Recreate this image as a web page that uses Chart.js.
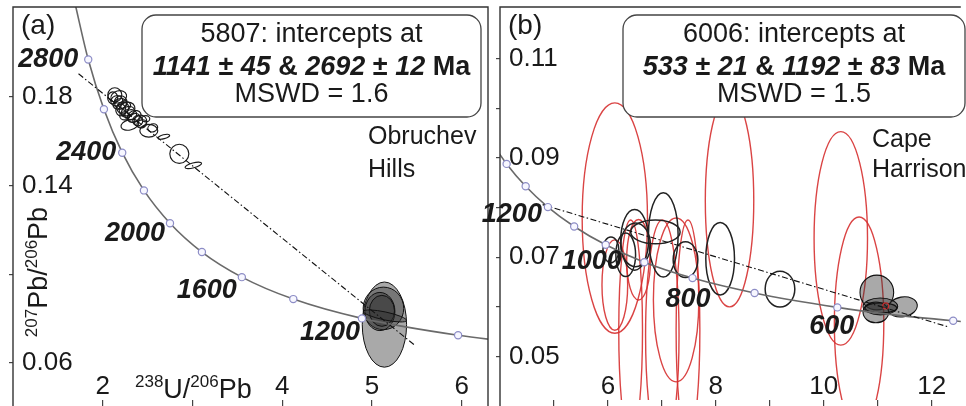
<!DOCTYPE html>
<html>
<head>
<meta charset="utf-8">
<title>Tera-Wasserburg concordia, samples 5807 and 6006</title>
<script src="https://cdn.jsdelivr.net/npm/chart.js@4.4.1/dist/chart.umd.min.js"></script>
<style>
  html, body { margin: 0; padding: 0; background: #fff; }
  #wrap { position: relative; width: 966px; height: 406px; overflow: hidden; }
  #panel-a { position: absolute; left: 0; top: 0; }
  #panel-b { position: absolute; left: 480px; top: 0; }
</style>
</head>
<body>
<div id="wrap">
  <canvas id="panel-a" width="494" height="406"></canvas>
  <canvas id="panel-b" width="486" height="406"></canvas>
</div>
<script>
// ---- Panel (a): sample 5807, Obruchev Hills ----
// concordia points (age in Ma, 238U/206Pb, 207Pb/206Pb)
const concAgesA = [3000, 2800, 2600, 2400, 2200, 2000, 1800, 1600, 1400, 1200, 1000, 900];
const concXA = [1.6875, 1.8383, 2.0129, 2.2170, 2.4586, 2.7490, 3.1046, 3.5496, 4.1227, 4.8876, 5.9588, 6.6744];
const concYA = [0.2227, 0.1968, 0.1744, 0.1548, 0.1378, 0.1230, 0.1100, 0.0987, 0.0888, 0.0801, 0.0725, 0.0690];
const markerAgesA = [2800, 2600, 2400, 2200, 2000, 1800, 1600, 1400, 1200, 1000];
const labelAgesA = [2800, 2400, 2000, 1600, 1200];

// discordia line
const discXA = [1.73, 5.47];
const discYA = [0.1904, 0.0682];

// error ellipses: [x, y, half-width, half-height, tilt deg]
const openEllA = [
  [2.134, 0.1809, 0.078, 0.0032, 0],
  [2.178, 0.1800, 0.089, 0.0027, -15],
  [2.111, 0.1795, 0.056, 0.0027, 0],
  [2.156, 0.1782, 0.067, 0.0023, -20],
  [2.200, 0.1775, 0.070, 0.0030, 0],
  [2.190, 0.1768, 0.078, 0.0023, -20],
  [2.256, 0.1759, 0.056, 0.0018, -20],
  [2.223, 0.1750, 0.067, 0.0027, -10],
  [2.270, 0.1745, 0.090, 0.0030, -20],
  [2.201, 0.1741, 0.056, 0.0027, 0],
  [2.279, 0.1732, 0.078, 0.0023, -25],
  [2.312, 0.1719, 0.067, 0.0023, -20],
  [2.245, 0.1714, 0.056, 0.0018, 0],
  [2.350, 0.1712, 0.080, 0.0025, -25],
  [2.346, 0.1705, 0.067, 0.0018, -25],
  [2.479, 0.1701, 0.045, 0.0014, 0],
  [2.390, 0.1692, 0.056, 0.0023, 0],
  [2.420, 0.1690, 0.070, 0.0027, -15],
  [2.435, 0.1678, 0.056, 0.0018, -20],
  [2.301, 0.1674, 0.100, 0.0023, -15],
  [2.557, 0.1660, 0.056, 0.0018, -20],
  [2.513, 0.1647, 0.100, 0.0029, 0],
  [2.680, 0.1620, 0.067, 0.0009, -15],
  [2.853, 0.1543, 0.106, 0.0043, 0],
  [3.009, 0.1491, 0.095, 0.0011, -15]
];
const greyEllA = [
  [5.138, 0.0773, 0.247, 0.0192, 0],
  [5.127, 0.0846, 0.226, 0.0096, 0],
  [5.088, 0.0832, 0.167, 0.0086, 0],
  [5.110, 0.0835, 0.140, 0.0070, 0],
  [5.144, 0.0812, 0.245, 0.0018, 12]
];

const xTicksA = [2, 3, 4, 5, 6];
const xLabelsA = [2, 4, 5, 6];
const yTicksA = [0.06, 0.10, 0.14, 0.18];
const yLabelsA = [0.06, 0.14, 0.18];

// ---- Panel (b): sample 6006, Cape Harrison ----
const concAgesB = [1500, 1400, 1300, 1200, 1100, 1000, 900, 800, 700, 600, 550, 500, 480];
const concXB = [3.8169, 4.1227, 4.4757, 4.8876, 5.3746, 5.9588, 6.6744, 7.5683, 8.7180, 10.2518, 11.2277, 12.399, 12.936];
const concYB = [0.0936, 0.0888, 0.0843, 0.0801, 0.0762, 0.0725, 0.0690, 0.0658, 0.0628, 0.0599, 0.0585, 0.0572, 0.0567];
const markerAgesB = [1400, 1300, 1200, 1100, 1000, 900, 800, 700, 600, 500];
const labelAgesB = [1200, 1000, 800, 600];

const discXB = [4.79, 12.30];
const discYB = [0.0806, 0.0560];

const redEllB = [
  [6.128, 0.0779, 0.605, 0.0232, 0],
  [8.254, 0.0814, 0.449, 0.0214, 0],
  [10.316, 0.0738, 0.495, 0.0215, 0],
  [10.655, 0.0567, 0.458, 0.0214, 0],
  [6.128, 0.0644, 0.238, 0.0091, 0],
  [7.264, 0.0614, 0.421, 0.0165, 0],
  [6.421, 0.0553, 0.220, 0.0222, 0],
  [7.008, 0.0543, 0.310, 0.0232, 0],
  [7.484, 0.0553, 0.220, 0.0222, 0],
  [6.568, 0.0695, 0.220, 0.0081, 0]
];
const openEllB = [
  [8.080, 0.0697, 0.266, 0.0073, 0],
  [9.189, 0.0636, 0.275, 0.0036, 0],
  [7.026, 0.0745, 0.275, 0.0085, 0],
  [6.495, 0.0735, 0.257, 0.0061, 0],
  [6.880, 0.0751, 0.458, 0.0024, 0],
  [7.438, 0.0695, 0.229, 0.0036, 0],
  [6.330, 0.0705, 0.183, 0.0044, 0],
  [6.055, 0.0715, 0.147, 0.0026, 0],
  [6.513, 0.0725, 0.275, 0.0044, 0]
];
const greyEllB = [
  [10.984, 0.0629, 0.312, 0.0035, 0],
  [11.461, 0.0600, 0.275, 0.0020, -10],
  [11.049, 0.0601, 0.321, 0.0017, 0],
  [10.966, 0.0589, 0.238, 0.0021, 0],
  [11.058, 0.0598, 0.293, 0.0010, 0]
];
const redDotB = [[11.149, 0.0602, 0.055, 0.0006, 0]];

const xTicksB = [5, 6, 7, 8, 9, 10, 11, 12];
const xLabelsB = [6, 8, 10, 12];
const yTicksB = [0.05, 0.06, 0.07, 0.08, 0.09, 0.10, 0.11];
const yLabelsB = [0.05, 0.07, 0.09, 0.11];

// ---- drawing helpers ----
const FONT = '"Liberation Sans", Arial, Helvetica, sans-serif';
const INK = '#1a1a1a';
const BOLD_IT = 'italic bold 27px ' + FONT;
const BOLD = 'bold 27px ' + FONT;
const PLAIN = '27px ' + FONT;
const BIG = '27px ' + FONT;
const SUP = '17px ' + FONT;

function pts(xs, ys) {
    return xs.map((x, i) => ({ x: x, y: ys[i] }));
}

// text made of pieces with different fonts: [text, font, raise]
function drawParts(ctx, parts, x, baseline, centred) {
    let total = 0;
    parts.forEach(p => { ctx.font = p[1]; total += ctx.measureText(p[0]).width; });
    let cur = centred ? x - total / 2 : x;
    ctx.textAlign = 'left';
    ctx.textBaseline = 'alphabetic';
    parts.forEach(p => {
        ctx.font = p[1];
        ctx.fillText(p[0], cur, baseline - (p[2] || 0));
        cur += ctx.measureText(p[0]).width;
    });
}

function makeOverlay(p) {
    return {
        id: 'overlay' + p.tag,
        beforeDatasetsDraw(chart) {
            const { ctx, chartArea: a, scales: { x, y } } = chart;
            ctx.save();
            ctx.beginPath();
            ctx.rect(a.left, a.top, a.right - a.left, a.bottom - a.top);
            ctx.clip();
            p.ellipses.forEach(g => {
                g.items.forEach(e => {
                    const cx = x.getPixelForValue(e[0]);
                    const cy = y.getPixelForValue(e[1]);
                    const rx = x.getPixelForValue(e[0] + e[2]) - cx;
                    const ry = cy - y.getPixelForValue(e[1] + e[3]);
                    ctx.beginPath();
                    ctx.ellipse(cx, cy, rx, ry, e[4] * Math.PI / 180, 0, Math.PI * 2);
                    if (g.fill) {
                        ctx.fillStyle = g.fill;
                        ctx.fill();
                    }
                    ctx.lineWidth = g.width;
                    ctx.strokeStyle = g.stroke;
                    ctx.stroke();
                });
            });
            ctx.restore();
        },
        afterDraw(chart) {
            const { ctx, chartArea: a, scales: { x, y } } = chart;
            ctx.save();

            // frame
            ctx.strokeStyle = '#333';
            ctx.lineWidth = 1.4;
            ctx.beginPath();
            ctx.moveTo(a.left, chart.height);
            ctx.lineTo(a.left, a.top);
            ctx.lineTo(a.right, a.top);
            if (p.frameRight) ctx.lineTo(a.right, chart.height);
            ctx.stroke();

            // age labels on the concordia
            ctx.fillStyle = INK;
            ctx.font = BOLD_IT;
            ctx.textAlign = 'right';
            ctx.textBaseline = 'middle';
            p.labelAges.forEach((age, k) => {
                const i = p.concAges.indexOf(age);
                const px = x.getPixelForValue(p.concX[i]) + p.labelOffsets[k][0];
                const py = y.getPixelForValue(p.concY[i]) + p.labelOffsets[k][1];
                ctx.fillText(String(age), px, py);
            });

            // result box
            const b = p.box;
            ctx.beginPath();
            ctx.roundRect(b.left, b.top, b.right - b.left, b.bottom - b.top, 14);
            ctx.fillStyle = '#fff';
            ctx.fill();
            ctx.strokeStyle = '#444';
            ctx.lineWidth = 1.3;
            ctx.stroke();
            ctx.fillStyle = INK;
            const cx = (b.left + b.right) / 2;
            drawParts(ctx, [[p.sample + ': intercepts at', PLAIN]], cx, 42, true);
            drawParts(ctx, [
                [p.lower[0], BOLD_IT], [' ± ', BOLD], [p.lower[1], BOLD_IT], [' & ', BOLD],
                [p.upper[0], BOLD_IT], [' ± ', BOLD], [p.upper[1], BOLD_IT], [' Ma', BOLD]
            ], cx, 75, true);
            drawParts(ctx, [['MSWD = ' + p.mswd, PLAIN]], cx, 102, true);

            // panel tag and locality
            drawParts(ctx, [[p.panel, '28px ' + FONT]], a.left + 8, 34, false);
            drawParts(ctx, [[p.site[0], '25px ' + FONT]], p.siteX, p.siteY[0], false);
            drawParts(ctx, [[p.site[1], '25px ' + FONT]], p.siteX, p.siteY[1], false);

            // axis titles inside the plot
            if (p.axisTitles) {
                drawParts(ctx, [['238', SUP, 11], ['U/', BIG], ['206', SUP, 11], ['Pb', BIG]], 135, 398, false);
                ctx.save();
                ctx.translate(47, 272);
                ctx.rotate(-Math.PI / 2);
                drawParts(ctx, [['207', SUP, 10], ['Pb/', BIG], ['206', SUP, 10], ['Pb', BIG]], 0, 0, true);
                ctx.restore();
            }
            ctx.restore();
        }
    };
}

function buildChart(canvasId, p) {
    const ctx = document.getElementById(canvasId).getContext('2d');
    const markers = p.markerAges.map(age => {
        const i = p.concAges.indexOf(age);
        return { x: p.concX[i], y: p.concY[i] };
    });
    return new Chart(ctx, {
        type: 'scatter',
        data: {
            datasets: [
                {   // age markers on the concordia
                    data: markers,
                    pointRadius: 3.6,
                    pointBorderWidth: 1.2,
                    borderColor: '#8d8dc6',
                    backgroundColor: '#f7f7ff'
                },
                {   // discordia
                    data: pts(p.discX, p.discY),
                    showLine: true,
                    pointRadius: 0,
                    borderColor: '#111',
                    borderWidth: 1.1,
                    borderDash: [6, 2.5, 1.5, 2.5]
                },
                {   // concordia curve
                    data: pts(p.concX, p.concY),
                    showLine: true,
                    pointRadius: 0,
                    borderColor: '#6a6a6a',
                    borderWidth: 1.6,
                    cubicInterpolationMode: 'monotone'
                }
            ]
        },
        options: {
            responsive: false,
            animation: false,
            events: [],
            layout: { padding: p.padding },
            plugins: { legend: { display: false }, tooltip: { enabled: false } },
            scales: {
                x: {
                    type: 'linear',
                    min: p.xMin,
                    max: p.xMax,
                    afterBuildTicks: s => { s.ticks = p.xTicks.map(v => ({ value: v })); },
                    afterFit: s => {
                        s.height = 6;
                        s.paddingLeft = 0;
                        s.paddingRight = 0;
                    },
                    border: { display: false },
                    grid: { drawOnChartArea: false, tickLength: 6, color: '#444', lineWidth: 1.2 },
                    ticks: {
                        mirror: true,
                        padding: 0,
                        autoSkip: false,
                        maxRotation: 0,
                        color: INK,
                        font: { family: FONT, size: 26, lineHeight: 1 },
                        callback: v => p.xLabels.includes(v) ? String(v) : ''
                    }
                },
                y: {
                    type: 'linear',
                    min: p.yMin,
                    max: p.yMax,
                    afterBuildTicks: s => { s.ticks = p.yTicks.map(v => ({ value: v })); },
                    afterFit: s => {
                        s.width = 4;
                        s.paddingTop = 0;
                        s.paddingBottom = 0;
                    },
                    border: { display: false },
                    grid: { drawOnChartArea: false, tickLength: 4, color: '#444', lineWidth: 1.2 },
                    ticks: {
                        mirror: true,
                        padding: 9,
                        color: INK,
                        font: { family: FONT, size: 26 },
                        callback: v => p.yLabels.includes(v) ? v.toFixed(2) : ''
                    }
                }
            }
        },
        plugins: [makeOverlay(p)]
    });
}

buildChart('panel-a', {
    tag: 'a', panel: '(a)', sample: '5807', mswd: '1.6',
    lower: ['1141', '45'], upper: ['2692', '12'],
    site: ['Obruchev', 'Hills'], siteX: 368, siteY: [144, 177],
    concAges: concAgesA, concX: concXA, concY: concYA,
    markerAges: markerAgesA, labelAges: labelAgesA,
    labelOffsets: [[-10, 0], [-6, 0], [-5, 10], [-5, 13], [-2, 14]],
    discX: discXA, discY: discYA,
    ellipses: [
        { items: openEllA, stroke: '#1a1a1a', width: 1.15 },
        { items: greyEllA, stroke: '#111', width: 1, fill: 'rgba(50,50,50,0.42)' }
    ],
    xTicks: xTicksA, xLabels: xLabelsA, yTicks: yTicksA, yLabels: yLabelsA,
    xMin: 1.0, xMax: 6.292, yMin: 0.0433, yMax: 0.2205,
    padding: { left: 9, right: 6, top: 7, bottom: 0 },
    box: { left: 142, top: 15, right: 481, bottom: 117 },
    frameRight: true, axisTitles: true
});

buildChart('panel-b', {
    tag: 'b', panel: '(b)', sample: '6006', mswd: '1.5',
    lower: ['533', '21'], upper: ['1192', '83'],
    site: ['Cape', 'Harrison'], siteX: 392, siteY: [147, 177],
    concAges: concAgesB, concX: concXB, concY: concYB,
    markerAges: markerAgesB, labelAges: labelAgesB,
    labelOffsets: [[-6, 7], [16, 17], [18, 21], [17, 19]],
    discX: discXB, discY: discYB,
    ellipses: [
        { items: redEllB, stroke: 'rgba(214,48,48,0.9)', width: 1.4 },
        { items: openEllB, stroke: '#222', width: 1.5 },
        { items: greyEllB, stroke: '#111', width: 1.1, fill: 'rgba(50,50,50,0.42)' },
        { items: redDotB, stroke: 'rgba(214,48,48,0.9)', width: 1.2 }
    ],
    xTicks: xTicksB, xLabels: xLabelsB, yTicks: yTicksB, yLabels: yLabelsB,
    xMin: 4.0, xMax: 12.54, yMin: 0.04125, yMax: 0.1204,
    padding: { left: 16, right: 0, top: 7, bottom: 0 },
    box: { left: 143, top: 15, right: 485, bottom: 117 },
    frameRight: false, axisTitles: false
});
</script>
</body>
</html>
